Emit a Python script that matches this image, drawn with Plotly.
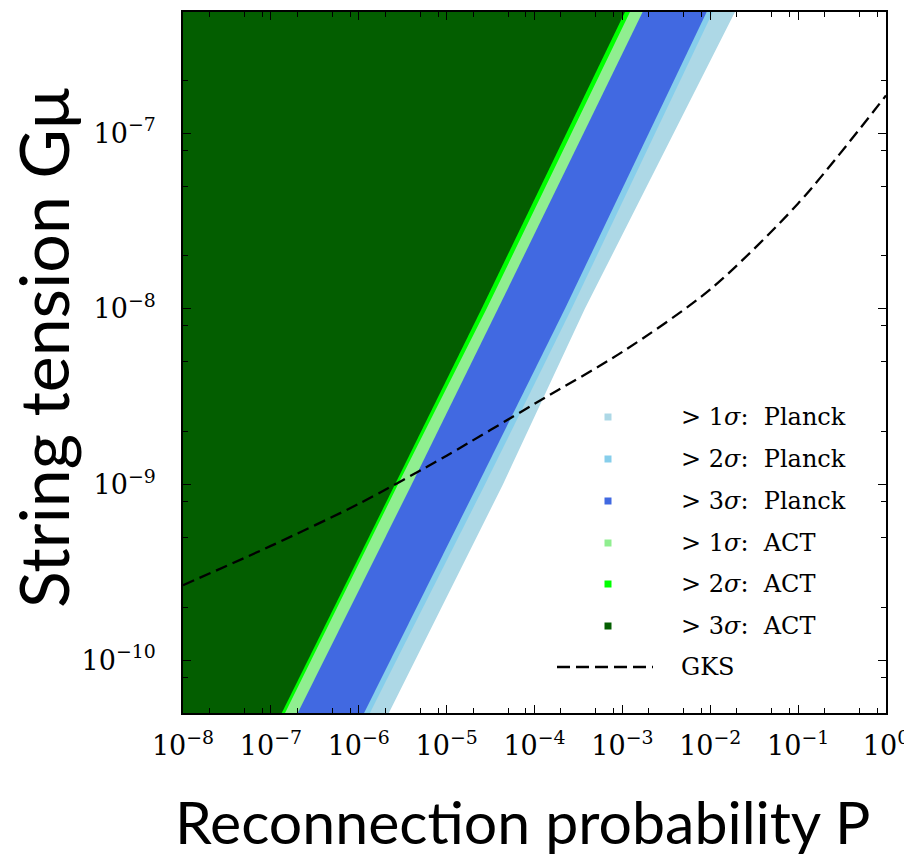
import numpy as np
import plotly.graph_objects as go

# ---- data -------------------------------------------------------------
# String tension values at which the exclusion boundaries are given
gmu_grid = [5e-11, 1e-9, 1e-8, 4.9e-7]

# Right-hand edge (in reconnection probability P) of each excluded region
planck_1sigma_edge = [2.20e-6, 4.37e-5, 3.74e-4, 1.91e-2]
planck_2sigma_edge = [1.34e-6, 2.73e-5, 2.64e-4, 1.07e-2]
planck_3sigma_edge = [1.15e-6, 2.27e-5, 2.22e-4, 9.10e-3]
act_1sigma_edge = [2.02e-7, 4.00e-6, 3.84e-5, 1.70e-3]
act_2sigma_edge = [1.45e-7, 2.79e-6, 2.85e-5, 1.22e-3]
act_3sigma_edge = [1.33e-7, 2.58e-6, 2.50e-5, 1.07e-3]

# GKS curve
gks_p = [1e-8, 1e-7, 1e-6, 1e-5, 1e-4, 1e-3, 1e-2, 1e-1, 1.0]
gks_gmu = [2.67e-10, 4.47e-10, 7.76e-10, 1.46e-9, 2.88e-9, 5.69e-9,
           1.29e-8, 3.98e-8, 1.64e-7]

region_labels = ["> 1σ:  Planck", "> 2σ:  Planck", "> 3σ:  Planck",
                 "> 1σ:  ACT", "> 2σ:  ACT", "> 3σ:  ACT"]
region_edges = [planck_1sigma_edge, planck_2sigma_edge, planck_3sigma_edge,
                act_1sigma_edge, act_2sigma_edge, act_3sigma_edge]
region_colors = ["#add8e6", "#87ceeb", "#4169e1",
                 "#90ee90", "#00ff00", "#035e00"]
gks_label = "GKS"

x_tick_vals = [1e-8, 1e-7, 1e-6, 1e-5, 1e-4, 1e-3, 1e-2, 1e-1, 1.0]
x_tick_text = ["10<sup>−8</sup>", "10<sup>−7</sup>", "10<sup>−6</sup>",
               "10<sup>−5</sup>", "10<sup>−4</sup>", "10<sup>−3</sup>",
               "10<sup>−2</sup>", "10<sup>−1</sup>", "10<sup>0</sup>"]
y_tick_vals = [1e-10, 1e-9, 1e-8, 1e-7]
y_tick_text = ["10<sup>−10</sup>", "10<sup>−9</sup>",
               "10<sup>−8</sup>", "10<sup>−7</sup>"]

x_title = "Reconnection probability P"
y_title = "String tension Gμ"

# ---- layout geometry --------------------------------------------------
W, H = 904, 858
ML, MR, MT, MB = 183, 18, 12, 145
PW, PH = W - ML - MR, H - MT - MB
P_MIN, P_MAX = 1e-8, 1.0
G_MIN, G_MAX = gmu_grid[0], gmu_grid[-1]


def fx(px):
    return (px - ML) / PW


def fy(py):
    return (H - MB - py) / PH


fig = go.Figure()

# Excluded regions: each spans from the left edge out to its boundary;
# drawn widest first so the stronger bounds sit on top.
for label, edge, color in zip(region_labels, region_edges, region_colors):
    xs = [P_MIN] + list(edge) + [P_MIN]
    ys = [gmu_grid[0]] + list(gmu_grid) + [gmu_grid[-1]]
    fig.add_trace(go.Scatter(
        x=xs, y=ys, mode="lines", fill="toself", fillcolor=color,
        line=dict(width=0, color=color), name=label, showlegend=False,
        hoverinfo="skip"))

fig.add_trace(go.Scatter(
    x=gks_p, y=gks_gmu, mode="lines", name=gks_label, showlegend=False,
    line=dict(color="black", width=2.3, dash="12px,6px", shape="spline",
              smoothing=0.8)))

# ---- legend (drawn by hand for square markers and a long dash) --------
legend_rows = [417, 459, 501, 543, 584, 626, 667]
legend_marker_x = 608
legend_text_x = 679
legend_font = dict(family="DejaVu Serif", size=24, color="black")
sq = 3.5
shapes = []
annotations = []
for row, label, color in zip(legend_rows, region_labels, region_colors):
    shapes.append(dict(type="rect", xref="paper", yref="paper",
                       x0=fx(legend_marker_x - sq), x1=fx(legend_marker_x + sq),
                       y0=fy(row + sq), y1=fy(row - sq),
                       fillcolor=color, line=dict(width=0)))
    sigma_label = label.replace(">", "&gt;").replace("σ", "<i>σ</i>")
    annotations.append(dict(xref="paper", yref="paper", x=fx(legend_text_x),
                            y=fy(row), xanchor="left", yanchor="middle",
                            text=sigma_label, showarrow=False,
                            font=legend_font))
shapes.append(dict(type="line", xref="paper", yref="paper",
                   x0=fx(557), x1=fx(653), y0=fy(legend_rows[-1]),
                   y1=fy(legend_rows[-1]),
                   line=dict(color="black", width=2.3, dash="13px,6px")))
annotations.append(dict(xref="paper", yref="paper", x=fx(legend_text_x),
                        y=fy(legend_rows[-1]), xanchor="left",
                        yanchor="middle", text=gks_label, showarrow=False,
                        font=legend_font))

# Axis titles
annotations.append(dict(xref="paper", yref="paper", x=fx(522), y=fy(822),
                        xanchor="center", yanchor="middle", text=x_title,
                        showarrow=False,
                        font=dict(family="Lato", size=59, color="black")))
annotations.append(dict(xref="paper", yref="paper", x=fx(42), y=fy(348),
                        xanchor="center", yanchor="middle", text=y_title,
                        textangle=-90, showarrow=False,
                        font=dict(family="Lato", size=68, color="black")))

# Minor ticks at 2, 5 and 8 times each power of ten
x_minor = [m * 10.0 ** k for k in range(-8, 0) for m in (2, 5, 8)]
y_minor = [m * 10.0 ** k for k in range(-11, -6) for m in (2, 5, 8)
           if G_MIN <= m * 10.0 ** k <= G_MAX]

tick_font = dict(family="DejaVu Serif", size=27, color="black")
common = dict(type="log", showgrid=False, zeroline=False, showline=True,
              linecolor="black", linewidth=1.6, mirror="allticks",
              ticks="inside", ticklen=8, tickwidth=1.4, tickcolor="black",
              tickfont=tick_font, ticklabeloverflow="allow",
              automargin=False)

fig.update_layout(
    width=W, height=H, margin=dict(l=ML, r=MR, t=MT, b=MB,
                                   autoexpand=False),
    paper_bgcolor="white", plot_bgcolor="white", showlegend=False,
    shapes=shapes, annotations=annotations,
    xaxis=dict(range=[np.log10(P_MIN), np.log10(P_MAX)],
               tickmode="array", tickvals=x_tick_vals, ticktext=x_tick_text,
               ticklabelstandoff=8,
               minor=dict(tickmode="array", tickvals=x_minor, ticks="inside",
                          ticklen=5, tickwidth=1.2, tickcolor="black",
                          showgrid=False),
               **common),
    yaxis=dict(range=[np.log10(G_MIN), np.log10(G_MAX)],
               tickmode="array", tickvals=y_tick_vals, ticktext=y_tick_text,
               ticklabelstandoff=20,
               minor=dict(tickmode="array", tickvals=y_minor, ticks="inside",
                          ticklen=5, tickwidth=1.2, tickcolor="black",
                          showgrid=False),
               **common),
)

fig.write_html("out.html")
